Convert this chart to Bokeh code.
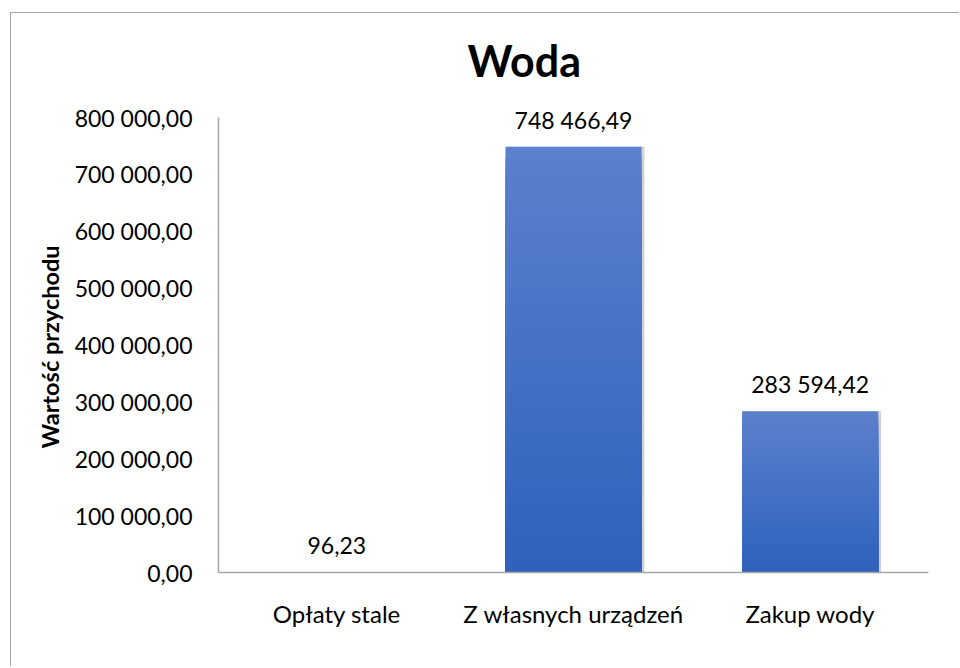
from bokeh.plotting import figure
from bokeh.models import ColumnDataSource, LabelSet, Range1d, FactorRange, Title
from bokeh.core.properties import value
from bokeh.transform import dodge
from bokeh.embed import file_html
from bokeh.resources import INLINE

# ---- data ----
categories = ["Opłaty stale", "Z własnych urządzeń", "Zakup wody"]
values = [96.23, 748466.49, 283594.42]
value_labels = ["96,23", "748 466,49", "283 594,42"]
y_ticks = [0, 100000, 200000, 300000, 400000, 500000, 600000, 700000, 800000]
y_tick_labels = ["0,00", "100 000,00", "200 000,00", "300 000,00", "400 000,00",
                 "500 000,00", "600 000,00", "700 000,00", "800 000,00"]
title_text = "Woda"
y_title = "Wartość przychodu"

FONT = "Lato"
TOP_COLOR = (92, 129, 204)
BOTTOM_COLOR = (46, 97, 189)
BAR_W = 0.575

AXIS_MAX = y_ticks[-1]
Y_MAX = AXIS_MAX * 478 / 455   # extra head-room above the axis for value labels

p = figure(width=949, height=654, x_range=FactorRange(*categories, range_padding=0),
           y_range=Range1d(0, Y_MAX), output_backend="svg", toolbar_location=None,
           min_border_left=207, min_border_right=32, min_border_top=81, min_border_bottom=95)
p.styles = {"border": "none", "outline": "none",
            "box-shadow": "-1px -1px 0 0 #A6A6A6",
            "margin-left": "11px", "margin-top": "13px"}

p.title.text = title_text
p.title.text_font = FONT
p.title.text_font_size = "43px"
p.title.text_font_style = "bold"
p.title.text_color = "black"
p.title.align = "left"
p.title.offset = 249
p.title.standoff = 17

# y-axis title (placed as a side title so it can be centred on the 0..800 000 span)
ytitle = Title(text=y_title, align="left", offset=124, standoff=16,
               text_font=FONT, text_font_size="23.5px", text_font_style="bold",
               text_color="black")
p.add_layout(ytitle, "left")

src = ColumnDataSource(dict(cat=categories, val=values, lab=value_labels))

# soft shadow
p.vbar(x=dodge("cat", 0.012, range=p.x_range), top="val", width=BAR_W, source=src,
       fill_color="black", fill_alpha=0.18, line_color=None)

# gradient bars (layers, lighter at the top)
N = 40
gx, gtop, gcol = [], [], []
for c, v in zip(categories, values):
    for k in range(N):
        frac = (N - k) / N
        t = (N - k - 0.5) / N
        r = round(BOTTOM_COLOR[0] + (TOP_COLOR[0] - BOTTOM_COLOR[0]) * t)
        g = round(BOTTOM_COLOR[1] + (TOP_COLOR[1] - BOTTOM_COLOR[1]) * t)
        b = round(BOTTOM_COLOR[2] + (TOP_COLOR[2] - BOTTOM_COLOR[2]) * t)
        gx.append(c)
        gtop.append(v * frac)
        gcol.append("#%02x%02x%02x" % (r, g, b))
gsrc = ColumnDataSource(dict(cat=gx, top=gtop, color=gcol))
p.vbar(x="cat", top="top", width=BAR_W, source=gsrc, fill_color="color", line_color=None)

labels = LabelSet(x="cat", y="val", text="lab", source=src, y_offset=18,
                  text_align="center", text_baseline="alphabetic",
                  text_font=value(FONT), text_font_size=value("23px"), text_color="black")
p.add_layout(labels)

# axes
p.yaxis.bounds = (0, AXIS_MAX)
p.yaxis.ticker = y_ticks
p.yaxis.major_label_overrides = dict(zip(y_ticks, y_tick_labels))
p.yaxis.major_label_standoff = 20

for ax in (p.xaxis, p.yaxis):
    ax.axis_line_color = "#A6A6A6"
    ax.axis_line_width = 1.5
    ax.major_tick_line_color = None
    ax.minor_tick_line_color = None
    ax.major_label_text_font = FONT
    ax.major_label_text_color = "black"

p.yaxis.major_label_text_font_size = "23px"
p.xaxis.major_label_text_font_size = "24px"
p.xaxis.major_label_standoff = 20
p.xgrid.grid_line_color = None
p.ygrid.grid_line_color = None
p.outline_line_color = None
p.background_fill_color = "white"
p.border_fill_color = "white"

open("out.html", "w").write(file_html(p, INLINE))
